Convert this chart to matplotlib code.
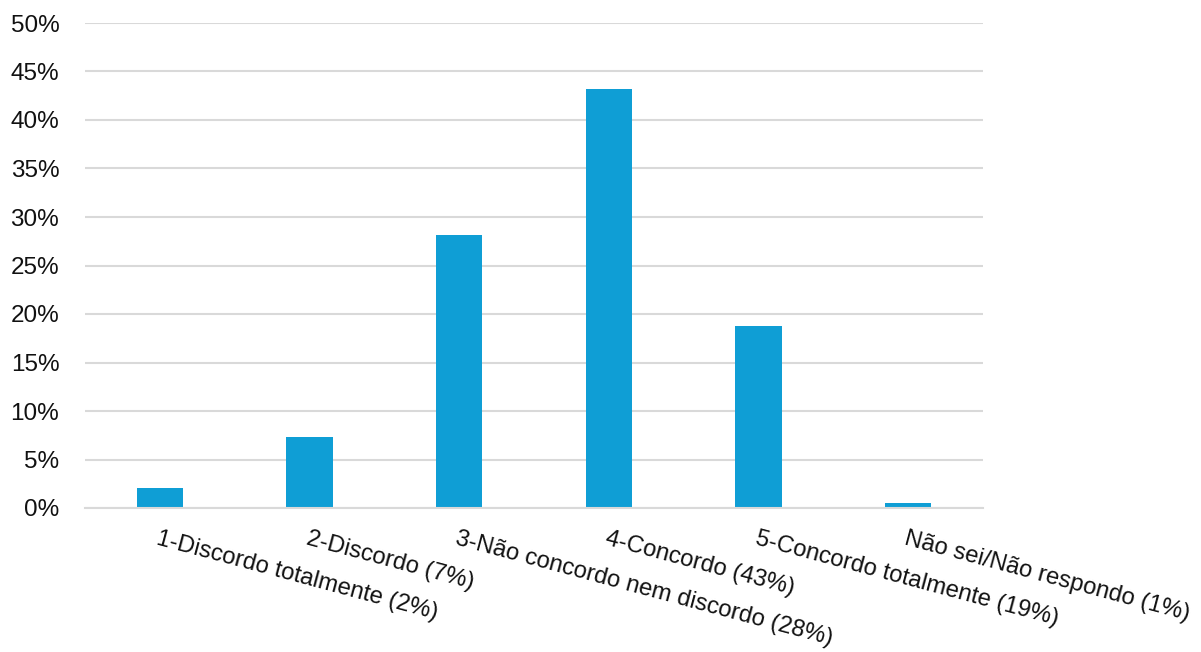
import matplotlib.pyplot as plt
from matplotlib.ticker import PercentFormatter

categories = [
    "1-Discordo totalmente (2%)",
    "2-Discordo (7%)",
    "3-Não concordo nem discordo (28%)",
    "4-Concordo (43%)",
    "5-Concordo totalmente (19%)",
    "Não sei/Não respondo (1%)",
]
values = [2.1, 7.3, 28.1, 43.2, 18.8, 0.5]

plt.rcParams['font.family'] = ['Liberation Sans', 'DejaVu Sans']

fig = plt.figure(figsize=(12.01, 6.52), dpi=100)
ax = fig.add_axes([85 / 1201, 1 - 508 / 652, 898 / 1201, 485 / 652])

x = list(range(len(categories)))
ax.bar(x, values, width=0.31, color="#0F9ED5", zorder=3)

ax.set_xlim(-0.5, len(categories) - 0.5)
ax.set_ylim(0, 50)
ax.set_yticks(range(0, 51, 5))
ax.yaxis.set_major_formatter(PercentFormatter(decimals=0))
ax.grid(axis="y", color="#D9D9D9", linewidth=1.5, zorder=0)

for side in ["top", "right", "left"]:
    ax.spines[side].set_visible(False)
ax.spines["bottom"].set_color("#D9D9D9")
ax.spines["bottom"].set_linewidth(1.5)
ax.spines["bottom"].set_zorder(4)

ax.tick_params(axis="y", length=0, pad=18.5, labelsize=17.5, labelcolor="#111111")
ax.tick_params(axis="x", length=0, pad=14, labelsize=17.2, labelcolor="#111111")
ax.set_xticks(x)
ax.set_xticklabels(categories, rotation=-15, ha="left", va="top",
                   rotation_mode="anchor")

fig.savefig("out.png", dpi=100)
plt.close(fig)
